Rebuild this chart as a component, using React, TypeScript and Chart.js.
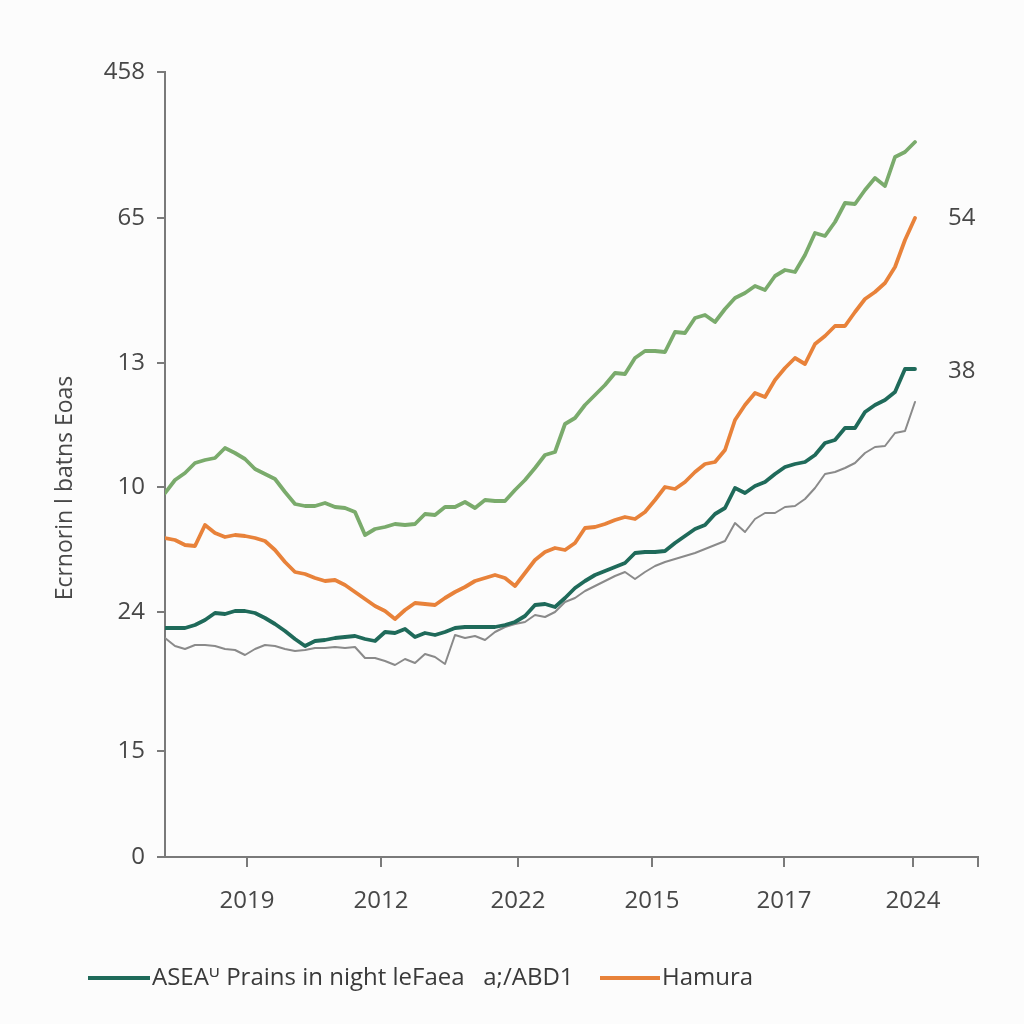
import React, { useEffect, useRef } from 'react';
import { Chart, registerables } from 'chart.js';

Chart.register(...registerables);

// sample index along the time axis (one step per sample)
const SAMPLE_COUNT = 76;

const GREEN_SERIES = [
  36.4, 37.7, 38.4, 39.4, 39.7, 39.9, 40.9, 40.4, 39.8, 38.8, 38.3, 37.8, 36.5, 35.3, 35.1, 35.1,
  35.4, 35.0, 34.9, 34.5, 32.2, 32.8, 33.0, 33.3, 33.2, 33.3, 34.3, 34.2, 35.0, 35.0, 35.5, 34.9,
  35.7, 35.6, 35.6, 36.7, 37.7, 38.9, 40.2, 40.5, 43.3, 43.9, 45.2, 46.2, 47.2, 48.4, 48.3, 49.9,
  50.6, 50.6, 50.5, 52.5, 52.4, 53.9, 54.2, 53.5, 54.8, 55.9, 56.4, 57.1, 56.7, 58.1, 58.7, 58.5,
  60.2, 62.4, 62.1, 63.5, 65.4, 65.3, 66.7, 67.9, 67.1, 70.0, 70.5, 71.5,
];

const ORANGE_SERIES = [
  31.9, 31.7, 31.2, 31.1, 33.2, 32.4, 32.0, 32.2, 32.1, 31.9, 31.6, 30.7, 29.5, 28.5, 28.3, 27.9,
  27.6, 27.7, 27.2, 26.5, 25.8, 25.1, 24.6, 23.8, 24.7, 25.4, 25.3, 25.2, 25.9, 26.5, 27.0, 27.6,
  27.9, 28.2, 27.9, 27.1, 28.4, 29.7, 30.5, 30.9, 30.7, 31.4, 32.9, 33.0, 33.3, 33.7, 34.0, 33.8,
  34.5, 35.7, 37.0, 36.8, 37.5, 38.5, 39.3, 39.5, 40.7, 43.7, 45.2, 46.4, 46.0, 47.7, 48.9, 49.9,
  49.3, 51.3, 52.1, 53.1, 53.1, 54.5, 55.8, 56.5, 57.4, 59.0, 61.7, 63.9,
];

const TEAL_SERIES = [
  22.9, 22.9, 22.9, 23.2, 23.7, 24.4, 24.3, 24.6, 24.6, 24.4, 23.9, 23.3, 22.6, 21.8, 21.1, 21.6,
  21.7, 21.9, 22.0, 22.1, 21.8, 21.6, 22.5, 22.4, 22.8, 22.0, 22.4, 22.2, 22.5, 22.9, 23.0, 23.0,
  23.0, 23.0, 23.2, 23.5, 24.1, 25.2, 25.3, 25.0, 25.9, 26.9, 27.6, 28.2, 28.6, 29.0, 29.4, 30.4,
  30.5, 30.5, 30.6, 31.4, 32.1, 32.8, 33.2, 34.3, 34.9, 36.9, 36.4, 37.1, 37.5, 38.3, 39.0, 39.3,
  39.5, 40.2, 41.4, 41.7, 42.9, 42.9, 44.5, 45.2, 45.7, 46.5, 48.8, 48.8,
];

const GRAY_SERIES = [
  21.9, 21.1, 20.8, 21.2, 21.2, 21.1, 20.8, 20.7, 20.2, 20.8, 21.2, 21.1, 20.8, 20.6, 20.7, 20.9,
  20.9, 21.0, 20.9, 21.0, 19.9, 19.9, 19.6, 19.2, 19.8, 19.4, 20.3, 20.0, 19.3, 22.2, 21.9, 22.1,
  21.7, 22.5, 23.0, 23.3, 23.5, 24.2, 24.0, 24.5, 25.5, 25.9, 26.6, 27.1, 27.6, 28.1, 28.5, 27.8,
  28.5, 29.1, 29.5, 29.8, 30.1, 30.4, 30.8, 31.2, 31.6, 33.4, 32.5, 33.8, 34.4, 34.4, 35.0, 35.1,
  35.8, 36.9, 38.3, 38.5, 38.9, 39.4, 40.4, 41.0, 41.1, 42.4, 42.6, 45.5,
];

const X_MAX = 81.3;
const X_TICK_VALUES = [8.2, 21.6, 35.3, 48.7, 61.9, 74.8, 81.3];
const X_TICK_LABELS = ['2019', '2012', '2022', '2015', '2017', '2024', ''];

const Y_MAX = 78.5;
const Y_TICK_VALUES = [0, 10.6, 24.5, 37.0, 49.4, 63.9, 78.5];
const Y_TICK_LABELS = ['0', '15', '24', '10', '13', '65', '458'];

const RIGHT_LABELS = ['54', '38'];
const RIGHT_LABEL_VALUES = [63.9, 48.6];

const Y_TITLE = 'Ecrnorin l batns Eoas';
const Y_TITLE_CENTER_VALUE = 36.9; // axis value at which the rotated y title is centred
const LEGEND_LABELS = ['ASEA\u1D41 Prains in night leFaea   a;/ABD1', 'Hamura'];

const COLORS = {
  green: '#7aab6c',
  orange: '#e8823a',
  teal: '#1f6a5a',
  gray: '#8a8a8a',
  axis: '#7a7a7a',
  text: '#474747',
};

const FONT = "'Open Sans', 'DejaVu Sans', sans-serif";

const toPoints = (arr: number[]) => arr.slice(0, SAMPLE_COUNT).map((v, i) => ({ x: i, y: v }));

export default function App() {
  const canvasRef = useRef<HTMLCanvasElement | null>(null);

  useEffect(() => {
    if (!canvasRef.current) return;

    const bgPlugin = {
      id: 'bg',
      beforeDraw(chart: any) {
        const { ctx, width, height } = chart;
        ctx.save();
        ctx.fillStyle = '#fcfcfc';
        ctx.fillRect(0, 0, width, height);
        ctx.restore();
      },
    };

    const extrasPlugin = {
      id: 'extras',
      afterDraw(chart: any) {
        const { ctx, chartArea } = chart;
        const yScale = chart.scales.y;
        ctx.save();
        // rotated y-axis title
        ctx.save();
        ctx.translate(65, yScale.getPixelForValue(Y_TITLE_CENTER_VALUE));
        ctx.rotate(-Math.PI / 2);
        ctx.fillStyle = COLORS.text;
        ctx.font = `23px ${FONT}`;
        ctx.textAlign = 'center';
        ctx.textBaseline = 'middle';
        ctx.fillText(Y_TITLE, 0, 0);
        ctx.restore();
        // right-side value labels
        ctx.fillStyle = COLORS.text;
        ctx.font = `24px ${FONT}`;
        ctx.textAlign = 'left';
        ctx.textBaseline = 'middle';
        RIGHT_LABELS.forEach((t, i) => {
          ctx.fillText(t, chartArea.right - 30, yScale.getPixelForValue(RIGHT_LABEL_VALUES[i]));
        });
        // custom legend
        const ly = 978;
        ctx.lineWidth = 4;
        ctx.lineCap = 'butt';
        ctx.strokeStyle = COLORS.teal;
        ctx.beginPath();
        ctx.moveTo(88, ly);
        ctx.lineTo(150, ly);
        ctx.stroke();
        ctx.fillStyle = '#3a3a3a';
        ctx.font = `24px ${FONT}`;
        ctx.textBaseline = 'middle';
        ctx.fillText(LEGEND_LABELS[0], 152, ly);
        ctx.strokeStyle = COLORS.orange;
        ctx.beginPath();
        ctx.moveTo(600, ly);
        ctx.lineTo(660, ly);
        ctx.stroke();
        ctx.fillText(LEGEND_LABELS[1], 662, ly);
        ctx.restore();
      },
    };

    const common = {
      pointRadius: 0,
      tension: 0,
      fill: false,
      borderJoinStyle: 'round' as const,
      borderCapStyle: 'round' as const,
    };

    const chart = new Chart(canvasRef.current, {
      type: 'line',
      data: {
        datasets: [
          { label: 'green', data: toPoints(GREEN_SERIES), borderColor: COLORS.green, borderWidth: 3.8, ...common },
          { label: 'orange', data: toPoints(ORANGE_SERIES), borderColor: COLORS.orange, borderWidth: 3.8, ...common },
          { label: 'teal', data: toPoints(TEAL_SERIES), borderColor: COLORS.teal, borderWidth: 3.8, ...common },
          { label: 'gray', data: toPoints(GRAY_SERIES), borderColor: COLORS.gray, borderWidth: 2, ...common },
        ],
      },
      options: {
        responsive: false,
        animation: false,
        layout: { padding: { left: 0, right: 46, top: 72, bottom: 0 } },
        plugins: {
          legend: { display: false },
          tooltip: { enabled: false },
        },
        scales: {
          x: {
            type: 'linear',
            min: 0,
            max: X_MAX,
            afterFit(scale: any) {
              scale.height = 1024 - 857;
            },
            afterBuildTicks(scale: any) {
              scale.ticks = X_TICK_VALUES.map((v) => ({ value: v }));
            },
            ticks: {
              autoSkip: false,
              maxRotation: 0,
              padding: 20,
              color: COLORS.text,
              font: { family: FONT, size: 24 },
              callback: (_v: any, i: number) => X_TICK_LABELS[i],
            },
            grid: {
              drawOnChartArea: false,
              drawTicks: true,
              tickLength: 10,
              color: COLORS.axis,
              lineWidth: 2,
            },
            border: { display: true, color: COLORS.axis, width: 2 },
          },
          y: {
            type: 'linear',
            min: 0,
            max: Y_MAX,
            afterFit(scale: any) {
              scale.width = 165;
            },
            afterBuildTicks(scale: any) {
              scale.ticks = Y_TICK_VALUES.map((v) => ({ value: v }));
            },
            ticks: {
              autoSkip: false,
              padding: 12,
              color: COLORS.text,
              font: { family: FONT, size: 24 },
              callback: (_v: any, i: number) => Y_TICK_LABELS[i],
            },
            grid: {
              drawOnChartArea: false,
              drawTicks: true,
              tickLength: 8,
              color: COLORS.axis,
              lineWidth: 2,
            },
            border: { display: true, color: COLORS.axis, width: 2 },
            title: { display: false },
          },
        },
      },
      plugins: [bgPlugin, extrasPlugin],
    });

    return () => chart.destroy();
  }, []);

  return (
    <div style={{ position: 'fixed', left: 0, top: 0, width: 1024, height: 1024, background: '#fcfcfc' }}>
      <canvas ref={canvasRef} width={1024} height={1024} style={{ width: 1024, height: 1024 }} />
    </div>
  );
}
